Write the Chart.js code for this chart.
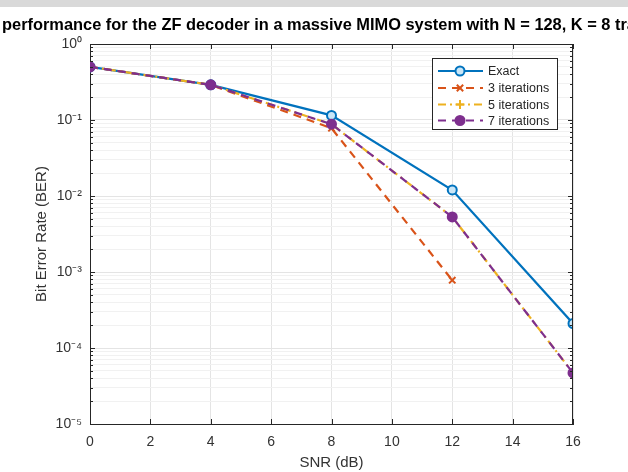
<!DOCTYPE html>
<html><head><meta charset="utf-8">
<script src="https://cdn.jsdelivr.net/npm/chart.js@4/dist/chart.umd.min.js"></script>
<style>
html,body{margin:0;padding:0;background:#fff;}
#wrap{position:relative;width:628px;height:472px;overflow:hidden;}
#band{position:absolute;left:0;top:0;width:628px;height:7px;background:#d9d9d9;}
canvas{display:block;}
</style>
</head><body><div id="wrap"><canvas id="c" width="628" height="472"></canvas><div id="band"></div></div>
<script>
// ---- data ----
const snr = [0, 4, 8, 12, 16];
const snr3 = [0, 4, 8, 12];
const berExact = [0.50, 0.29, 0.115, 0.012, 2.1e-4];
const ber3 = [0.50, 0.29, 0.078, 7.8e-4];
const ber5 = [0.50, 0.29, 0.088, 0.0053, 4.7e-5];
const ber7 = [0.50, 0.29, 0.088, 0.0053, 4.7e-5];
const seriesLabels = ['Exact', '3 iterations', '5 iterations', '7 iterations'];
const xTicks = [0, 2, 4, 6, 8, 10, 12, 14, 16];
const yExponents = [-5, -4, -3, -2, -1, 0];
const titleText = 'BER performance for the ZF decoder in a massive MIMO system with N = 128, K = 8 transmitters';
const titleHiddenStart = 'BER ';
const xTitle = 'SNR (dB)';
const yTitle = 'Bit Error Rate (BER)';

const sup = {'-':'\u207B','0':'\u2070','1':'\u00B9','2':'\u00B2','3':'\u00B3','4':'\u2074','5':'\u2075','6':'\u2076','7':'\u2077','8':'\u2078','9':'\u2079'};
const supStr = n => String(n).split('').map(c => sup[c]).join('');

const yTickVals = [];
yExponents.forEach(e => {
  if (e === 0) { yTickVals.push(1); return; }
  for (let m = 1; m <= 9; m++) yTickVals.push(+(m * Math.pow(10, e)).toPrecision(3));
});
const isDecade = v => Math.abs(Math.log10(v) - Math.round(Math.log10(v))) < 1e-9;

function mk(label, xs, ys, color, dash, pstyle, pfill, order) {
  return {
    label, data: xs.map((x, i) => ({x, y: ys[i]})),
    borderColor: color, backgroundColor: pfill, borderWidth: 2.2, borderDash: dash,
    pointStyle: pstyle, pointRadius: 4.5, pointBorderColor: color, pointBackgroundColor: pfill,
    pointBorderWidth: 2, order, tension: 0
  };
}
const datasets = [
  mk(seriesLabels[0], snr, berExact, '#0072BD', [], 'circle', '#c9e6f7', 3),
  mk(seriesLabels[1], snr3, ber3, '#D95319', [8, 6], 'crossRot', '#D95319', 2),
  mk(seriesLabels[2], snr, ber5, '#EDB120', [8, 4, 2, 4], 'cross', '#EDB120', 1),
  mk(seriesLabels[3], snr, ber7, '#7E2F8E', [8, 6], 'circle', '#7E2F8E', 0)
];

const FONT = '"Liberation Sans", Arial, sans-serif';

const framePlugin = {
  id: 'frame',
  afterDatasetsDraw(chart) {
    const {ctx, chartArea: a, scales: {x, y}} = chart;
    ctx.save();
    ctx.strokeStyle = '#262626';
    ctx.lineWidth = 1;
    ctx.beginPath();
    ctx.moveTo(a.left, a.top + 0.5); ctx.lineTo(a.right, a.top + 0.5);
    ctx.moveTo(a.right - 0.5, a.top); ctx.lineTo(a.right - 0.5, a.bottom);
    x.ticks.forEach(t => {
      const px = Math.round(x.getPixelForValue(t.value)) + 0.5;
      ctx.moveTo(px, a.bottom); ctx.lineTo(px, a.bottom - 5);
      ctx.moveTo(px, a.top); ctx.lineTo(px, a.top + 5);
    });
    y.ticks.forEach(t => {
      const py = Math.round(y.getPixelForValue(t.value)) + 0.5;
      const L = isDecade(t.value) ? 5 : 3;
      ctx.moveTo(a.left, py); ctx.lineTo(a.left + L, py);
      ctx.moveTo(a.right, py); ctx.lineTo(a.right - L, py);
    });
    ctx.stroke();
    ctx.restore();
  },
  afterDraw(chart) {
    const {ctx} = chart;
    ctx.save();
    ctx.font = 'bold 16.4px ' + FONT;
    ctx.fillStyle = '#000';
    ctx.textBaseline = 'middle';
    ctx.textAlign = 'left';
    const off = ctx.measureText(titleHiddenStart).width;
    ctx.fillText(titleText, 2 - off, 25);
    const bx = 432, by = 58, bw = 125, bh = 71;
    ctx.fillStyle = '#fff';
    ctx.fillRect(bx, by, bw, bh);
    ctx.strokeStyle = '#262626';
    ctx.lineWidth = 1;
    ctx.strokeRect(bx + 0.5, by + 0.5, bw, bh);
    const rows = [71, 88, 104.5, 120.5];
    chart.data.datasets.forEach((d, i) => {
      const yy = rows[i];
      ctx.save();
      ctx.strokeStyle = d.borderColor;
      ctx.lineWidth = d.borderWidth;
      ctx.setLineDash(d.borderDash);
      ctx.beginPath(); ctx.moveTo(438, yy); ctx.lineTo(483, yy); ctx.stroke();
      ctx.setLineDash([]);
      ctx.lineWidth = d.pointBorderWidth;
      ctx.fillStyle = d.pointBackgroundColor;
      Chart.helpers.drawPoint(ctx, {pointStyle: d.pointStyle, radius: d.pointRadius, rotation: 0, borderWidth: d.pointBorderWidth}, 460, yy);
      ctx.restore();
      ctx.fillStyle = '#262626';
      ctx.font = '12.5px ' + FONT;
      ctx.textBaseline = 'middle';
      ctx.fillText(d.label, 488, yy + 1);
    });
    ctx.restore();
  }
};

new Chart(document.getElementById('c'), {
  type: 'line',
  data: {datasets},
  options: {
    responsive: false, animation: false, devicePixelRatio: 1,
    layout: {padding: {left: 0, right: 55, top: 44, bottom: 0}},
    plugins: {legend: {display: false}, tooltip: {enabled: false}, title: {display: false}},
    scales: {
      x: {
        type: 'linear', min: 0, max: 16,
        afterBuildTicks: s => { s.ticks = xTicks.map(v => ({value: v})); },
        afterFit: s => { s.height = 48; },
        grid: {color: '#e4e4e4', drawTicks: false},
        border: {display: true, color: '#262626', width: 1},
        ticks: {padding: 10, color: '#333', font: {family: FONT, size: 14}, autoSkip: false, maxRotation: 0},
        title: {display: true, text: xTitle, color: '#333', font: {family: FONT, size: 15}, padding: {top: 0, bottom: 0}}
      },
      y: {
        type: 'logarithmic', min: 1e-5, max: 1,
        afterBuildTicks: s => { s.ticks = yTickVals.map(v => ({value: v, major: isDecade(v)})); },
        afterFit: s => { s.width = 90; },
        grid: {color: c => (c.tick && isDecade(c.tick.value)) ? '#e4e4e4' : '#f1f1f1', drawTicks: false},
        border: {display: true, color: '#262626', width: 1},
        ticks: {
          padding: 8, color: '#333', font: {family: FONT, size: 14}, autoSkip: false,
          callback: v => isDecade(v) ? '10' + supStr(Math.round(Math.log10(v))) : ''
        },
        title: {display: true, text: yTitle, color: '#333', font: {family: FONT, size: 15}, padding: {top: 33, bottom: 0}}
      }
    }
  },
  plugins: [framePlugin]
});
</script>
</body></html>
